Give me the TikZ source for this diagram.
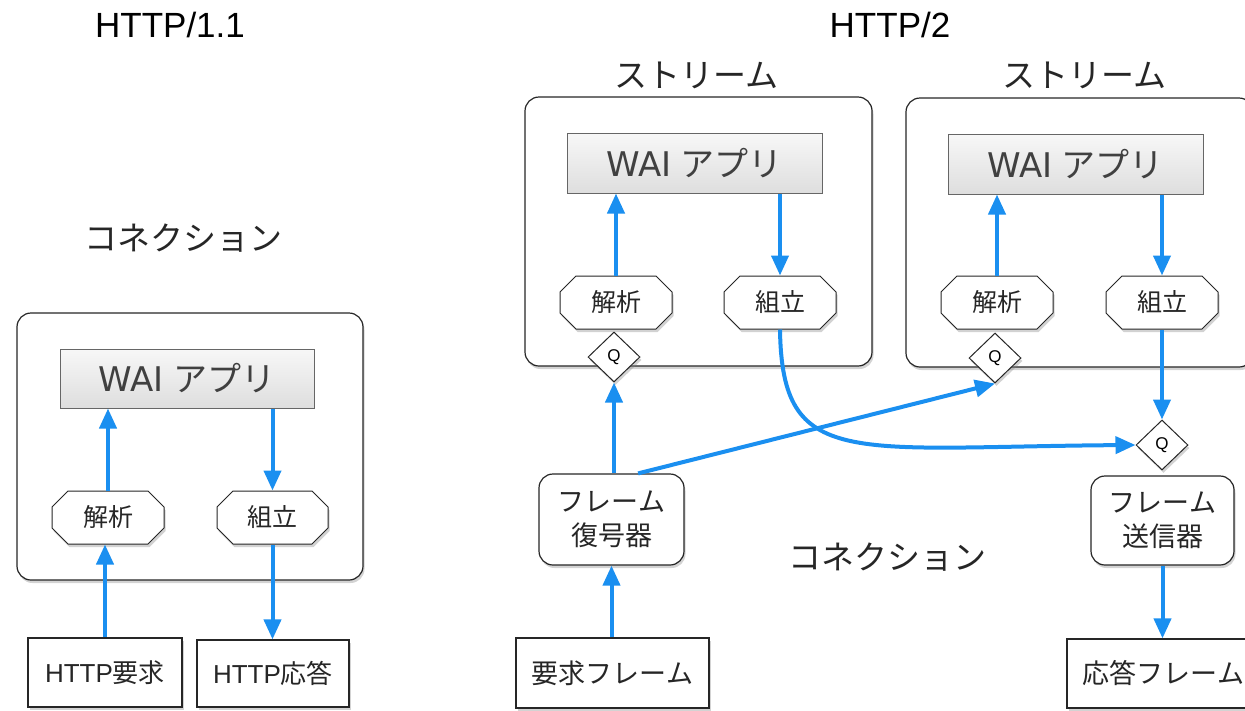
\documentclass[tikz,border=0pt]{standalone}
\usepackage{fontspec}
\setmainfont{Liberation Sans}
\newfontfamily\jp{Noto Sans CJK JP}
\newfontfamily\dv{DejaVu Sans}
\usetikzlibrary{arrows.meta,shapes.misc,shapes.geometric,shadows}
\definecolor{arrowblue}{HTML}{1A8FF0}
\tikzset{
  arr/.style={draw=arrowblue, line width=4pt, -{Triangle[length=20pt,width=17pt]}},
  shad/.style={drop shadow={shadow xshift=1.5pt, shadow yshift=-3pt, opacity=0.35}},
  bigbox/.style={shad, draw=black!85, line width=1.2pt, rounded corners=14pt, fill=white, inner sep=0pt},
  waibox/.style={draw=black!60, line width=1pt, top color=black!3, bottom color=black!13,
    font=\fontsize{34}{40}\selectfont, text=black!75, inner sep=0pt,
    minimum width=255pt, minimum height=60pt},
  octbox/.style={shad, chamfered rectangle, chamfered rectangle xsep=8pt, chamfered rectangle ysep=8pt,
    draw=black!85, line width=1pt, fill=white, inner sep=0pt, text=black!85,
    font=\jp\fontsize{25}{30}\selectfont, minimum width=112pt, minimum height=53pt},
  qbox/.style={shad, diamond, draw=black!85, line width=1pt, fill=white, inner sep=0pt,
    minimum width=52pt, minimum height=50pt, font=\fontsize{17}{20}\selectfont},
  framebox/.style={shad, draw=black!85, line width=1.2pt, rounded corners=14pt, fill=white,
    inner sep=0pt, align=center, font=\jp\fontsize{27}{34}\selectfont, text=black!85},
  ioBox/.style={shad, draw=black!85, line width=1.2pt, fill=white, inner sep=0pt, text=black!85,
    font=\fontsize{26}{30}\selectfont},
  title/.style={font=\fontsize{35}{40}\selectfont, text=black},
  jtitle/.style={font=\jp\fontsize{33}{40}\selectfont, text=black!85},
}
\begin{document}
\begin{tikzpicture}[x=1pt,y=-1pt]
\useasboundingbox (0,0) rectangle (1245,710);
\clip (0,0) rectangle (1245,710);

% ---------------- HTTP/1.1 ----------------
\node[title] (t1) at (170,25) {HTTP/1.1};
\node[jtitle] (c1) at (183,238) {コネクション};
\node[bigbox, minimum width=346pt, minimum height=267pt] (conn1) at (190,446.5) {};
\node[waibox, minimum width=254pt, minimum height=59pt] (wai0) at (187,378.5) {{\dv WAI} {\jp アプリ}};
\node[octbox] (parse0) at (108,517.5) {解析};
\node[octbox, minimum width=111pt] (build0) at (272.5,517.5) {組立};
\node[ioBox, minimum width=154pt, minimum height=69pt] (req0) at (105,672.5) {HTTP{\jp 要求}};
\node[ioBox, minimum width=152pt, minimum height=67pt] (resp0) at (273,673.5) {HTTP{\jp 応答}};

\draw[arr] (req0.north) -- (req0.north |- parse0.south);
\draw[arr] (parse0.north) -- (parse0.north |- wai0.south);
\draw[arr] (wai0.south -| build0.north) -- (build0.north);
\draw[arr] (build0.south) -- (build0.south |- resp0.north);

% ---------------- HTTP/2 ----------------
\node[title] (t2) at (890,25) {HTTP/2};
\node[jtitle] (st1) at (696,75) {ストリーム};
\node[jtitle] (st2) at (1084,75) {ストリーム};
\node[jtitle] (c2) at (887,557) {コネクション};

\node[bigbox, minimum width=347pt, minimum height=269pt] (s1) at (698.5,231.5) {};
\node[bigbox, minimum width=347pt, minimum height=269pt] (s2) at (1079.5,232.5) {};

\node[waibox] (wai1) at (694.5,163) {{\dv WAI} {\jp アプリ}};
\node[waibox] (wai2) at (1075.5,164) {{\dv WAI} {\jp アプリ}};

\node[octbox] (parse1) at (616,302.5) {解析};
\node[octbox] (build1) at (780,302.5) {組立};
\node[octbox] (parse2) at (997,302.5) {解析};
\node[octbox] (build2) at (1162,302.5) {組立};

\node[qbox] (q1) at (614,357) {Q};
\node[qbox] (q2) at (995,358) {Q};

\node[framebox, minimum width=145pt, minimum height=91pt] (dec) at (611.5,519.5) {フレーム\\復号器};
\node[framebox, minimum width=143pt, minimum height=89pt] (snd) at (1162.5,520.5) {フレーム\\送信器};
\node[qbox] (q3) at (1162,445) {Q};

\node[ioBox, minimum width=193pt, minimum height=70pt, font=\jp\fontsize{27}{30}\selectfont] (reqf) at (612.5,673) {要求フレーム};
\node[ioBox, minimum width=193pt, minimum height=69pt, font=\jp\fontsize{27}{30}\selectfont] (respf) at (1163.5,673.5) {応答フレーム};

\draw[arr] (reqf.north -| dec.south) -- (dec.south);
\draw[arr] (q1.south |- dec.north) -- (q1.south);
\draw[arr] (dec.60) -- (q2.south);
\draw[arr] (parse1.north) -- (parse1.north |- wai1.south);
\draw[arr] (wai1.south -| build1.north) -- (build1.north);
\draw[arr] (parse2.north) -- (parse2.north |- wai2.south);
\draw[arr] (wai2.south -| build2.north) -- (build2.north);
\draw[arr] (build2.south) -- (q3.north);
\draw[arr] (build1.south) .. controls (782,470) and (850,447) .. (q3.west);
\draw[arr] (snd.south) -- (snd.south |- respf.north);
\end{tikzpicture}
\end{document}
